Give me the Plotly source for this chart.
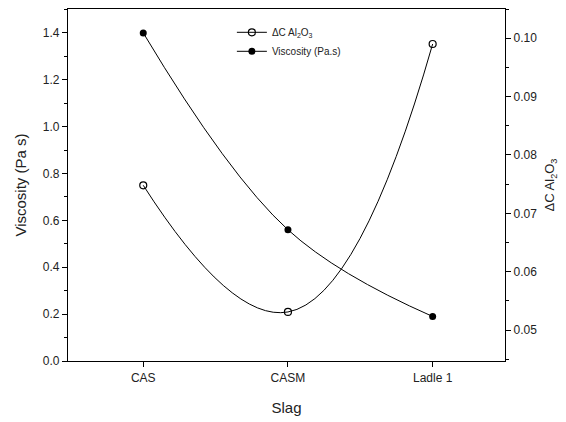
import plotly.graph_objects as go

categories = ["CAS", "CASM", "Ladle 1"]
viscosity = [1.40, 0.56, 0.19]
delta_c = [0.0748, 0.0531, 0.0990]

xpos = list(range(len(categories)))

fig = go.Figure()
fig.add_trace(go.Scatter(
    x=xpos, y=delta_c, yaxis="y2", mode="lines+markers",
    name="ΔC Al<sub>2</sub>O<sub>3</sub>",
    line=dict(color="black", width=1, shape="spline", smoothing=1.3),
    marker=dict(symbol="circle-open", size=7, color="black", line=dict(width=1.2)),
))
fig.add_trace(go.Scatter(
    x=xpos, y=viscosity, mode="lines+markers",
    name="Viscosity (Pa.s)",
    line=dict(color="black", width=1, shape="spline", smoothing=1.1),
    marker=dict(symbol="circle", size=7, color="black"),
))

font_family = "Liberation Sans, Arial, sans-serif"
fig.update_layout(
    width=566, height=422,
    margin=dict(l=68, r=61, t=9, b=61),
    paper_bgcolor="white", plot_bgcolor="white",
    font=dict(family=font_family, color="#222", size=12),
    showlegend=True,
    legend=dict(x=0.375, y=0.975, xanchor="left", yanchor="top",
                font=dict(size=10), bgcolor="rgba(0,0,0,0)",
                tracegroupgap=0, itemwidth=30),
    xaxis=dict(
        range=[-0.52, 2.5], tickvals=xpos, ticktext=categories,
        showline=True, linecolor="black", linewidth=1.2, mirror=True,
        ticks="outside", ticklen=5, tickcolor="black",
        showgrid=False, zeroline=False,
        title=dict(text="Slag", font=dict(size=15), standoff=18),
        tickfont=dict(size=12),
    ),
    yaxis=dict(
        range=[0, 1.502], dtick=0.2, tick0=0, tickformat=".1f",
        showline=True, linecolor="black", linewidth=1.2,
        ticks="outside", ticklen=5, tickcolor="black",
        minor=dict(ticks="outside", dtick=0.1, ticklen=3, tickcolor="black"),
        showgrid=False, zeroline=False,
        title=dict(text="Viscosity (Pa s)", font=dict(size=15), standoff=12),
        tickfont=dict(size=12),
    ),
    yaxis2=dict(
        overlaying="y", side="right",
        range=[0.0447, 0.1050], dtick=0.01, tick0=0.05, tickformat=".2f",
        showline=True, linecolor="black", linewidth=1.2,
        ticks="outside", ticklen=5, tickcolor="black",
        minor=dict(ticks="outside", dtick=0.005, ticklen=3, tickcolor="black"),
        showgrid=False, zeroline=False,
        title=dict(text="ΔC Al<sub>2</sub>O<sub>3</sub>", font=dict(size=13), standoff=8),
        tickfont=dict(size=12),
    ),
)

fig.write_html("out.html")
